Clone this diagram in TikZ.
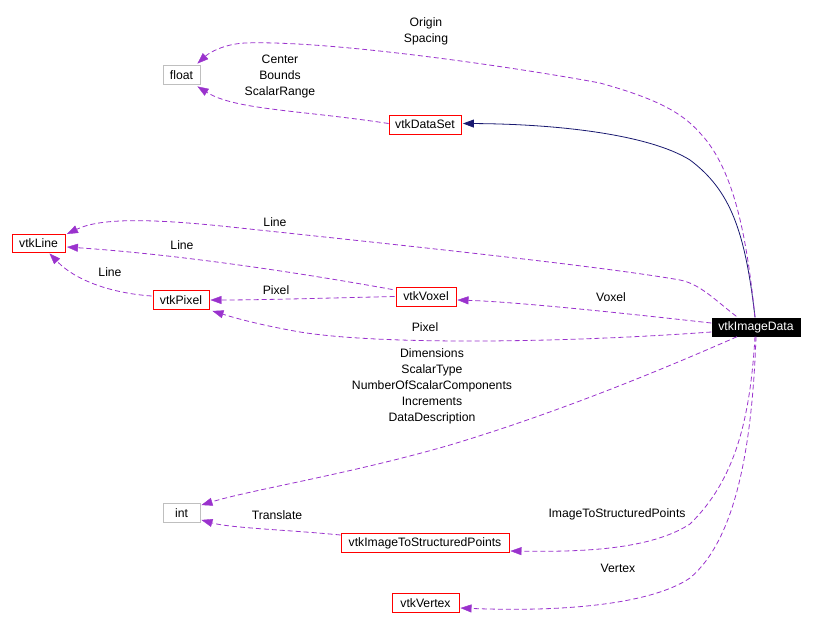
\documentclass[tikz,border=0pt]{standalone}
\usepackage{fontspec}
\setmainfont{Liberation Sans}
\usetikzlibrary{arrows.meta,calc}
\definecolor{edgepurple}{HTML}{9A32CD}
\definecolor{inhblue}{HTML}{191970}
\definecolor{extgray}{HTML}{BFBFBF}
\begin{document}
\begin{tikzpicture}[x=1pt,y=-1pt,
  font=\fontsize{12.2}{16}\selectfont,
  cls/.style={draw=red,line width=0.9pt,inner sep=0pt,minimum height=19pt},
  ext/.style={draw=extgray,line width=0.9pt,inner sep=0pt,minimum height=19pt,minimum width=37pt},
  dep/.style={edgepurple,dash pattern=on 5pt off 3pt,line width=0.8pt,
    -{Triangle[length=11pt,width=8pt,fill=edgepurple,line width=0.4pt]}},
  inh/.style={inhblue,line width=0.8pt,
    -{Triangle[length=11pt,width=8pt,fill=inhblue]}},
  lbl/.style={align=center,inner sep=0pt}]
\useasboundingbox (0,0) rectangle (813,629);

% nodes
\node[ext] (flt) at (181.5,75) {float};
\node[cls, minimum width=72pt] (ds) at (425,124.5) {vtkDataSet};
\node[cls, minimum width=53pt, minimum height=18pt] (line) at (38.5,243) {vtkLine};
\node[cls, minimum width=56pt] (pix) at (181,300) {vtkPixel};
\node[cls, minimum width=60pt] (vox) at (426,296.5) {vtkVoxel};
\node[fill=black,text=white,minimum width=89pt,minimum height=19pt,inner sep=0pt] (img) at (756,327) {vtkImageData};
\node[ext] (int) at (181.5,513) {int};
\node[cls, minimum width=168pt] (itsp) at (425,543) {vtkImageToStructuredPoints};
\node[cls, minimum width=67pt] (vtx) at (425.5,603) {vtkVertex};

% labels
\node[lbl] (lOrigin) at (426,31) {Origin\\Spacing};
\node[lbl] (lCenter) at (280,77) {Center\\Bounds\\ScalarRange};
\node[lbl] (lLine1) at (275,222) {Line};
\node[lbl] (lLine2) at (182,245) {Line};
\node[lbl] (lLine3) at (110,272) {Line};
\node[lbl] (lPixel1) at (276,290) {Pixel};
\node[lbl] (lPixel2) at (425,327) {Pixel};
\node[lbl] (lVoxel) at (611,297) {Voxel};
\node[lbl] (lDims) at (432,386) {Dimensions\\ScalarType\\NumberOfScalarComponents\\Increments\\DataDescription};
\node[lbl] (lTrans) at (277,515) {Translate};
\node[lbl] (lITSP) at (617,514) {ImageToStructuredPoints};
\node[lbl] (lVertex) at (618,568) {Vertex};

% inheritance
\draw[inh] ($(img.north)+(-1,0)$) .. controls (745,230) and (730,190) .. (690,160)
  .. controls (650,135) and (560,124) .. ($(ds.east)+(1.5,-1)$);

% usage edges
\draw[dep] ($(img.north)+(-1,0)$) .. controls (747,240) and (735,170) .. (700,133)
  .. controls (680,110) and (650,97) .. (600,83)
  .. controls (520,68) and (330,40) .. (245,43)
  .. controls (225,44) and (210,52) .. ($(flt.north east)+(-3,-1.5)$);
\draw[dep] ($(ds.west)+(0,-1)$) .. controls (300,110) and (235,110) .. ($(flt.south east)+(-3,1.5)$);
\draw[dep] ($(img.north west)+(25,-1)$) .. controls (715,300) and (700,284) .. (680,280)
  .. controls (600,266) and (400,245) .. (240,228)
  .. controls (150,218) and (100,218) .. ($(line.north east)+(1.5,0.5)$);
\draw[dep] ($(vox.north west)+(-3,3)$) .. controls (340,280) and (200,256) .. ($(line.east)+(1.5,4)$);
\draw[dep] ($(pix.west)+(-1,-4)$) .. controls (110,293) and (75,280) .. ($(line.south)+(11,1)$);
\draw[dep] ($(vox.west)+(-1,0)$) .. controls (330,298) and (260,300) .. ($(pix.east)+(1,0)$);
\draw[dep] ($(img.west)+(0,-4)$) .. controls (640,315) and (520,302) .. ($(vox.east)+(1,3.5)$);
\draw[dep] ($(img.west)+(0,5)$) .. controls (560,343) and (380,345) .. (300,332)
  .. controls (260,325) and (235,318) .. ($(pix.south east)+(3,1)$);
\draw[dep] ($(img.south)+(-19,0)$) .. controls (650,375) and (550,415) .. (450,445)
  .. controls (350,474) and (250,490) .. ($(int.north east)+(1,2)$);
\draw[dep] ($(itsp.west)+(0,-8)$) .. controls (290,530) and (230,528) .. ($(int.south east)+(1,-3)$);
\draw[dep] ($(img.south)+(-1,0)$) .. controls (750,420) and (735,480) .. (690,524)
  .. controls (650,550) and (580,552) .. ($(itsp.east)+(1,8)$);
\draw[dep] ($(img.south)+(0,0)$) .. controls (752,450) and (735,540) .. (690,578)
  .. controls (650,605) and (560,612) .. ($(vtx.east)+(1,5)$);
\end{tikzpicture}
\end{document}
